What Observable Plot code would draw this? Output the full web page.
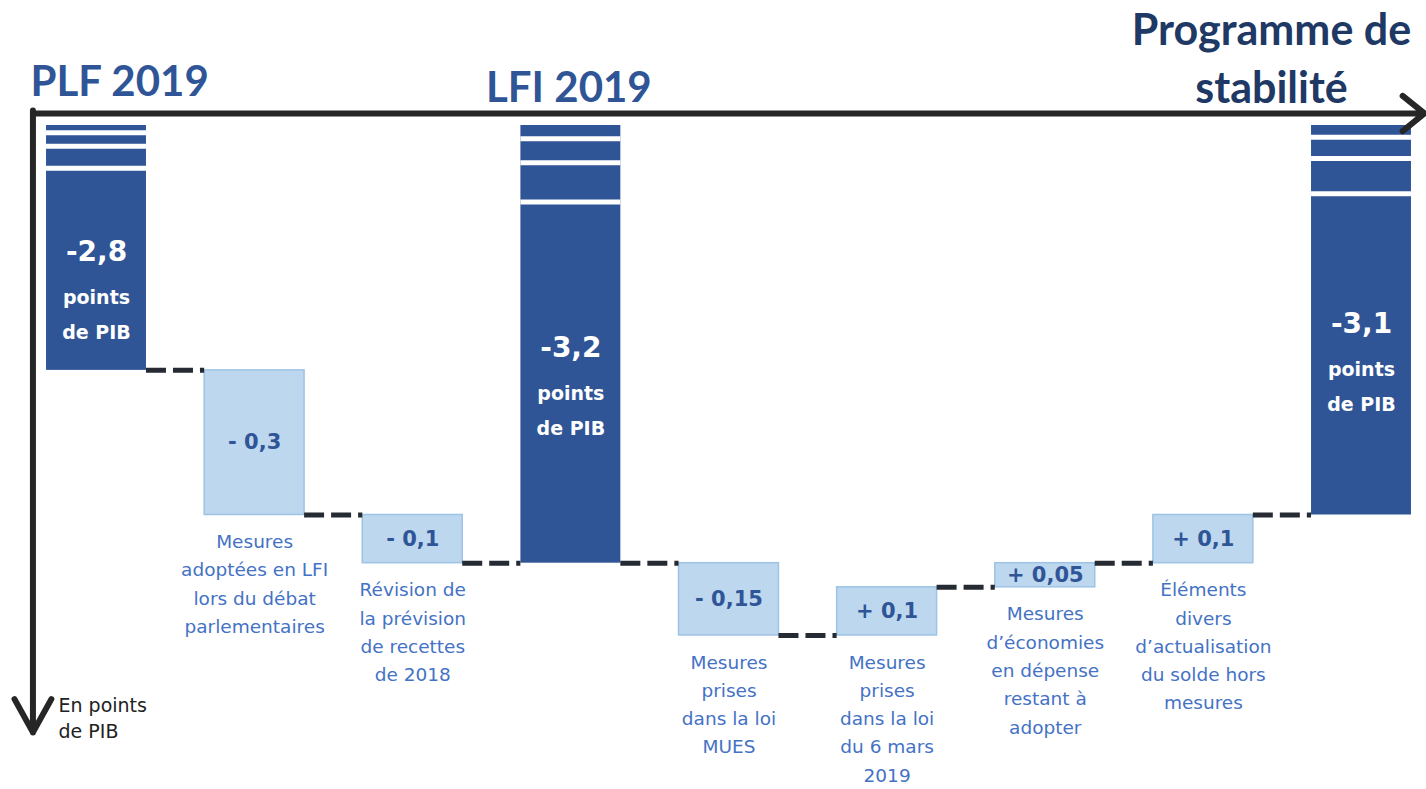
<!DOCTYPE html>
<html><head><meta charset="utf-8">
<script src="https://cdn.jsdelivr.net/npm/d3@7"></script>
<script src="https://cdn.jsdelivr.net/npm/@observablehq/plot@0.6"></script>
<style>
body{margin:0;background:#fff;}
g[aria-label="total values"] text{letter-spacing:2px}
</style>
</head><body><div id="chart"></div>
<script>
// ---- data ----
const categories = ["PLF 2019","Mesures adoptées en LFI lors du débat parlementaires","Révision de la prévision de recettes de 2018","LFI 2019","Mesures prises dans la loi MUES","Mesures prises dans la loi du 6 mars 2019","Mesures d’économies en dépense restant à adopter","Éléments divers d’actualisation du solde hors mesures","Programme de stabilité"];
const kinds = ["total","step","step","total","step","step","step","step","total"];
const values = [-2.8,-0.3,-0.1,-3.2,-0.15,0.1,0.05,0.1,-3.1];
const valueLabels = ["-2,8","- 0,3","- 0,1","-3,2","- 0,15","+ 0,1","+ 0,05","+ 0,1","-3,1"];
const descriptions = ["","Mesures\nadoptées en LFI\nlors du débat\nparlementaires","Révision de\nla prévision\nde recettes\nde 2018","","Mesures\nprises\ndans la loi\nMUES","Mesures\nprises\ndans la loi\ndu 6 mars\n2019","Mesures\nd’économies\nen dépense\nrestant à\nadopter","Éléments\ndivers\nd’actualisation\ndu solde hors\nmesures",""];
const headers = ["PLF 2019","LFI 2019","Programme de\nstabilité"];
const totalUnit = "points\nde PIB";
const unitLabel = "En points\nde PIB";

// ---- scale settings (broken axis: top of visible scale) ----
const Y_TOP = -2.292, Y_BOTTOM = -3.6;
const HW = 0.316;                       // half bar width, in band units
const breakFractions = [0.03, 0.085, 0.175];

let level = 0, t = 0;
const rows = categories.map((c, i) => {
  const kind = kinds[i], v = values[i];
  let start, end;
  if (kind === "total") { start = Y_TOP; end = v; }
  else { start = level; end = level + v; }
  level = end;
  return {i, c, kind, v, label: valueLabels[i], desc: descriptions[i], start, end,
    low: Math.min(start, end), mid: (start + end) / 2,
    header: kind === "total" ? headers[t++] : ""};
});
const totals = rows.filter(d => d.kind === "total");
const steps = rows.filter(d => d.kind === "step");
const connectors = rows.slice(0, -1).map((d, k) => ({x1: d.i + HW, x2: rows[k + 1].i - HW, y: d.end}));
const stripes = breakFractions.flatMap(f => totals.map(d => ({i: d.i, y: Y_TOP + (d.end - Y_TOP) * f})));

const x0 = -0.402, xEnd = 8.398, yAxis = Y_TOP + 0.025, yTip = -3.551;

const plot = Plot.plot({
  width: 1426, height: 789,
  x: {domain: [0, 8], range: [96, 1361], axis: null},
  y: {domain: [Y_BOTTOM, Y_TOP], range: [755.5, 125], axis: null},
  style: {fontFamily: "'DejaVu Sans', sans-serif", background: "#fff"},
  marks: [
    Plot.rect(totals, {x1: d => d.i - HW, x2: d => d.i + HW, y1: "start", y2: "end", fill: "#2f5597"}),
    Plot.ruleY(stripes, {y: "y", x1: d => d.i - HW, x2: d => d.i + HW, stroke: "white", strokeWidth: 5}),
    Plot.rect(steps, {x1: d => d.i - HW, x2: d => d.i + HW, y1: "start", y2: "end", fill: "#bdd7ee", stroke: "#9dc3e6", strokeWidth: 1.5}),
    Plot.ruleY(connectors, {y: "y", x1: "x1", x2: "x2", stroke: "#262b33", strokeWidth: 5, strokeDasharray: "20,7"}),
    Plot.text(steps, {x: "i", y: "mid", text: "label", fill: "#2f5597", fontWeight: "bold", fontSize: 21}),
    Plot.text(steps, {x: "i", y: "low", text: "desc", lineAnchor: "top", dy: 13, fontSize: 18.5, lineHeight: 1.53, fill: "#4472c4"}),
    Plot.text(totals, {x: "i", y: "mid", text: "label", fill: "white", fontWeight: "bold", fontSize: 28, dy: 4, ariaLabel: "total values"}),
    Plot.text(totals, {x: "i", y: "mid", text: () => totalUnit, fill: "white", fontWeight: "bold", fontSize: 19, lineHeight: 1.85, dy: 62}),
    Plot.text(totals.slice(0, 1), {x: d => d.i - HW, y: () => Y_TOP, text: "header", textAnchor: "start", dx: -16, dy: -43, fill: "#2f5597", fontWeight: "bold", fontSize: 42, fontFamily: "Lato"}),
    Plot.text(totals.slice(1, 2), {x: "i", y: () => Y_TOP, text: "header", dx: -2, dy: -37, fill: "#2f5597", fontWeight: "bold", fontSize: 42, fontFamily: "Lato"}),
    Plot.text(totals.slice(2, 3), {x: "i", y: () => Y_TOP, text: "header", dx: -90, dy: -70, lineHeight: 1.34, fill: "#203864", fontWeight: "bold", fontSize: 43, fontFamily: "Lato"}),
    Plot.arrow([0], {x1: () => x0 + 0.006, y1: () => yAxis, x2: () => xEnd, y2: () => yAxis, stroke: "#262626", strokeWidth: 6, headLength: 7, headAngle: 78}),
    Plot.arrow([0], {x1: () => x0, y1: () => yAxis + 0.006, x2: () => x0, y2: () => yTip, stroke: "#262626", strokeWidth: 6, headLength: 9.5, headAngle: 58}),
    Plot.text([unitLabel], {x: () => -HW, y: () => yTip, text: d => d, textAnchor: "start", dx: 12, dy: -16, fontSize: 19, lineHeight: 1.4, fill: "#222"})
  ]
});
document.getElementById("chart").appendChild(plot);
</script>
</body></html>
